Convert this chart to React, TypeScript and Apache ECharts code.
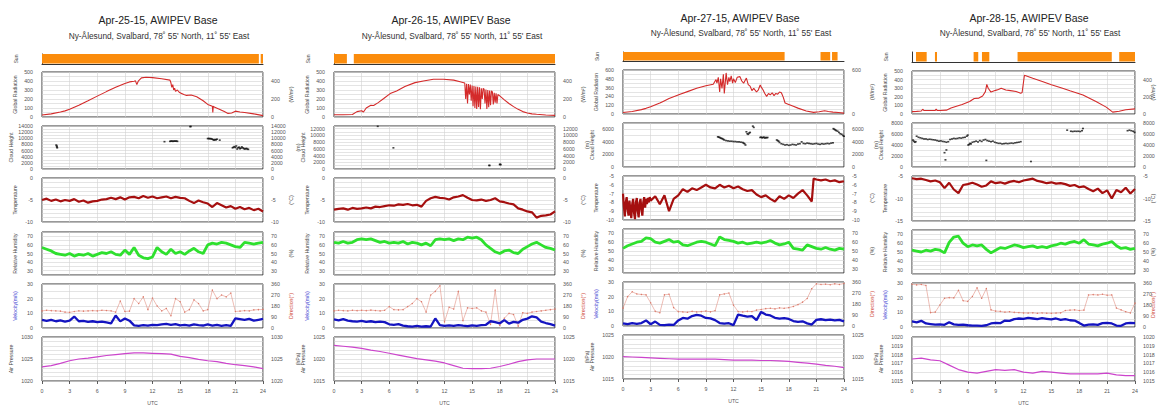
import React, { useEffect, useRef } from 'react';
import * as echarts from 'echarts';

const FONT = '"Liberation Sans", Arial, Helvetica, sans-serif';

const TITLES = ['Apr-25-15, AWIPEV Base', 'Apr-26-15, AWIPEV Base', 'Apr-27-15, AWIPEV Base', 'Apr-28-15, AWIPEV Base'];
const SUBTITLE = "Ny-Ålesund, Svalbard, 78˚ 55' North, 11˚ 55' East";

const H49 = [0, 0.5, 1, 1.5, 2, 2.5, 3, 3.5, 4, 4.5, 5, 5.5, 6, 6.5, 7, 7.5, 8, 8.5, 9, 9.5, 10, 10.5, 11, 11.5, 12, 12.5, 13, 13.5, 14, 14.5, 15, 15.5, 16, 16.5, 17, 17.5, 18, 18.5, 19, 19.5, 20, 20.5, 21, 21.5, 22, 22.5, 23, 23.5, 24];
const H25 = [0, 1, 2, 3, 4, 5, 6, 7, 8, 9, 10, 11, 12, 13, 14, 15, 16, 17, 18, 19, 20, 21, 22, 23, 24];

// ---------- Sun (hours with sunshine) ----------
const SUN1 = [[0, 23.55], [23.75, 24]];
const SUN2 = [[0, 1.4], [2.15, 24]];
const SUN3 = [[0, 17.55], [21.45, 22.5], [22.7, 23.3]];
const SUN4 = [[0.43, 1.58], [2.47, 2.69], [6.63, 7.13], [7.53, 8.32], [11.36, 21.5], [22.3, 24]];

// ---------- Global radiation [hour, W/m2] ----------
const RAD1 = [[0, 22], [1, 35], [2, 55], [2.5, 68], [3, 85], [4, 130], [5, 180], [6, 232], [7, 282], [8, 330], [9, 372], [9.5, 390], [10, 398], [10.15, 402], [10.3, 360], [10.45, 398], [10.8, 435], [11.3, 442], [12, 438], [13, 425], [13.9, 410], [14.0, 380], [14.1, 330], [14.2, 360], [14.3, 300], [14.4, 320], [14.5, 285], [14.7, 300], [14.9, 275], [15.1, 265], [15.4, 250], [15.7, 240], [16.2, 245], [16.8, 225], [17.5, 180], [18.0, 140], [18.5, 120], [18.55, 50], [18.6, 120], [18.7, 110], [19.2, 90], [19.8, 60], [20.2, 40], [20.6, 45], [21, 65], [21.5, 55], [22, 50], [23, 35], [24, 15]];
const RAD2 = [[0, 25], [1, 25], [2, 27], [2.5, 60], [3, 70], [3.2, 55], [3.5, 100], [4, 130], [4.3, 128], [4.8, 160], [5.4, 205], [6.1, 260], [6.8, 290], [7.7, 340], [8.8, 382], [9.7, 400], [10.8, 420], [11.9, 420], [13, 410], [13.7, 392], [14.2, 378], [14.3, 200], [14.4, 370], [14.5, 150], [14.6, 365], [14.7, 250], [14.8, 360], [14.9, 180], [15.0, 350], [15.1, 120], [15.2, 345], [15.3, 100], [15.4, 340], [15.5, 90], [15.6, 335], [15.7, 110], [15.8, 330], [15.9, 85], [16.0, 320], [16.1, 200], [16.2, 318], [16.3, 310], [16.4, 150], [16.5, 305], [16.6, 90], [16.7, 300], [16.8, 110], [16.9, 295], [17.0, 130], [17.1, 290], [17.2, 280], [17.3, 140], [17.4, 270], [17.5, 160], [17.6, 262], [17.7, 150], [17.8, 250], [18, 235], [18.5, 190], [19, 150], [19.5, 115], [20, 85], [20.5, 60], [21, 45], [21.5, 35], [22, 30], [23, 22], [24, 18]];
const RAD3 = [[0, 20], [1, 35], [2, 60], [2.5, 77], [3, 100], [4, 150], [4.3, 168], [5, 210], [6.2, 268], [7, 305], [8, 350], [9, 385], [9.8, 405], [10.1, 470], [10.2, 420], [10.35, 500], [10.5, 300], [10.6, 480], [10.75, 350], [10.9, 540], [11.0, 280], [11.2, 560], [11.35, 400], [11.5, 500], [11.6, 440], [11.75, 520], [11.9, 420], [12.0, 480], [12.2, 430], [12.4, 500], [12.7, 510], [12.9, 450], [13.1, 420], [13.4, 490], [13.6, 400], [13.8, 380], [14.0, 320], [14.2, 350], [14.5, 300], [14.7, 330], [14.9, 395], [15.0, 370], [15.2, 330], [15.4, 280], [15.6, 240], [15.8, 280], [16.0, 260], [16.2, 290], [16.4, 250], [16.6, 280], [16.8, 270], [17.0, 300], [17.2, 290], [17.4, 230], [17.6, 150], [18, 130], [18.5, 105], [19, 80], [19.9, 40], [20.7, 22], [21.3, 30], [21.9, 45], [22.3, 35], [22.8, 25], [23.4, 20], [24, 12]];
const RAD4 = [[0, 28], [0.5, 30], [1, 35], [1.15, 55], [1.3, 40], [2, 40], [2.5, 42], [2.6, 57], [2.7, 42], [3, 40], [3.7, 45], [4.2, 70], [4.7, 88], [5.4, 110], [6.2, 145], [6.7, 180], [7.2, 185], [7.6, 210], [7.9, 260], [8.05, 345], [8.2, 300], [8.5, 255], [9.0, 275], [9.3, 285], [9.6, 300], [10.1, 280], [10.6, 272], [11.2, 262], [11.7, 240], [11.85, 250], [12.1, 450], [13, 415], [14.1, 375], [15, 340], [16.2, 300], [17, 270], [18.4, 222], [19.8, 145], [20.9, 80], [21.6, 22], [22.3, 32], [23, 50], [24, 60]];

// ---------- Cloud height [hour, m] ----------
const CLOUD1 = [[1.55, 7800], [1.6, 7500], [1.62, 7200], [1.65, 6900], [13.3, 8900], [13.9, 9000], [14.0, 9050], [14.1, 9100], [14.2, 9000], [14.3, 9050], [14.4, 9100], [14.5, 9050], [14.6, 9100], [14.7, 9000], [16.1, 13800], [16.15, 13850], [18.0, 9900], [18.1, 9950], [18.2, 9850], [18.3, 9900], [18.4, 9800], [18.5, 9700], [18.6, 9500], [18.7, 9400], [18.8, 9600], [18.9, 9500], [19.0, 9700], [19.3, 9400], [20.7, 6900], [20.8, 7100], [20.9, 7300], [21.0, 7000], [21.1, 7500], [21.2, 6500], [21.3, 6900], [21.4, 7100], [21.5, 6600], [21.6, 6800], [21.7, 7200], [21.8, 6900], [21.9, 6700], [22.0, 6500], [22.1, 6600], [22.2, 6700], [22.3, 6500], [22.4, 6400]];
const CLOUD2 = [[4.75, 12700], [6.45, 6300], [16.85, 1070], [16.9, 1050], [18.0, 1350], [18.05, 1380], [18.1, 1300]];
const CLOUD3 = [[10.3, 4800], [10.4, 4750], [10.5, 4700], [10.6, 4600], [10.7, 4550], [10.8, 4500], [10.9, 4400], [11.0, 4300], [11.2, 4200], [11.4, 4150], [11.6, 4100], [11.8, 4100], [12.0, 4050], [12.2, 4050], [12.4, 4000], [12.6, 4000], [12.8, 3950], [13.0, 3900], [13.1, 3800], [13.2, 3700], [13.3, 3500], [13.4, 5600], [13.5, 5300], [13.6, 5200], [13.7, 5400], [13.8, 5500], [14.1, 6500], [14.2, 6300], [14.9, 4700], [15.0, 4750], [15.1, 4650], [15.2, 4700], [15.3, 4750], [15.4, 4600], [15.5, 4700], [15.6, 4650], [15.7, 4700], [16.7, 4300], [16.8, 4200], [16.9, 4100], [17.0, 3900], [17.2, 3700], [17.4, 3600], [17.6, 3500], [17.8, 3550], [18.0, 3450], [18.2, 3500], [18.4, 3600], [18.6, 3550], [18.8, 3500], [19.0, 3650], [19.2, 3700], [19.4, 4000], [19.6, 3750], [19.8, 3700], [20.0, 3800], [20.2, 3750], [20.4, 3700], [20.6, 3650], [20.8, 3700], [21.0, 3750], [21.2, 3650], [21.4, 3600], [21.6, 3700], [21.8, 3650], [22.0, 3700], [22.2, 3750], [22.4, 3700], [22.6, 3800], [22.8, 3850], [22.85, 6100], [22.95, 6000], [23.05, 5900], [23.15, 5800], [23.3, 5700], [23.45, 5500], [23.6, 5300], [23.75, 5200], [23.9, 5000], [24.0, 4900]];
const CLOUD4 = [[0.1, 4900], [0.2, 4700], [0.3, 4500], [0.4, 4600], [0.5, 5600], [0.7, 5400], [0.9, 5300], [1.1, 5200], [1.3, 5100], [1.5, 5100], [1.7, 5000], [1.9, 5050], [2.1, 5000], [2.3, 4950], [2.5, 4900], [2.7, 4800], [2.9, 4700], [3.1, 4750], [3.3, 4650], [3.5, 4600], [3.7, 4500], [3.9, 4600], [3.5, 2600], [3.6, 1300], [3.7, 3100], [4.1, 5000], [4.3, 5100], [4.5, 5200], [4.7, 5150], [4.9, 5200], [5.1, 5300], [5.3, 5250], [5.5, 5350], [5.7, 5400], [5.9, 5600], [6.0, 5800], [6.05, 4000], [6.15, 4100], [6.25, 4300], [6.35, 4200], [6.5, 4500], [6.7, 4600], [6.9, 4700], [7.1, 4550], [7.3, 4800], [7.5, 4650], [7.7, 4900], [7.9, 5000], [8.1, 4800], [8.3, 4700], [8.0, 1200], [8.5, 4600], [8.7, 4700], [8.9, 4500], [9.1, 4400], [9.3, 4300], [9.5, 4300], [9.7, 4200], [9.9, 4250], [10.1, 4300], [10.3, 4250], [10.5, 4300], [10.7, 4350], [10.9, 4300], [11.1, 4400], [11.3, 4450], [11.5, 4500], [11.7, 4600], [12.8, 1000], [16.7, 6700], [17.1, 6500], [17.3, 6450], [17.5, 6500], [17.7, 6480], [17.9, 6500], [18.1, 6450], [18.3, 6600], [18.4, 7000], [23.2, 6600], [23.4, 6700], [23.6, 6600], [23.8, 6500], [23.95, 6300]];

// ---------- Temperature [°C] ----------
const TEMP1 = [-5.0, -4.7, -5.2, -4.9, -5.3, -5.0, -5.2, -4.8, -5.4, -5.1,
  -5.6, -5.3, -5.2, -4.9, -4.8, -4.5, -4.8, -4.4, -4.9, -4.4,
  -4.3, -4.6, -4.1, -4.5, -4.2, -4.6, -4.4, -4.2, -4.6, -4.3,
  -4.5, -4.6, -5.2, -5.7, -5.1, -5.5, -5.8, -6.6, -5.7, -6.2,
  -6.7, -6.4, -7.0, -6.6, -7.1, -6.8, -7.3, -7.0, -7.6];
const TEMP2 = [-7.2, -7.0, -6.9, -7.2, -6.8, -7.0, -6.9, -6.7, -6.9, -6.5,
  -6.6, -6.4, -6.2, -6.3, -6.0, -6.1, -5.9, -6.2, -6.1, -6.5,
  -5.2, -4.6, -4.3, -4.5, -4.6, -4.9, -4.4, -4.2, -3.9, -4.5,
  -5.0, -5.1, -4.9, -5.2, -5.0, -4.6, -5.3, -5.5, -5.8, -6.0,
  -6.9, -7.2, -7.6, -7.8, -9.0, -8.6, -8.5, -8.3, -7.6];
const TEMP3 = [[0, -7.0], [0.1, -8.5], [0.2, -9.6], [0.3, -8.0], [0.4, -7.4], [0.5, -8.8], [0.6, -9.5], [0.7, -7.8], [0.8, -8.9], [0.9, -9.8],
  [1.0, -8.2], [1.1, -7.6], [1.2, -9.2], [1.3, -9.9], [1.4, -8.0], [1.5, -7.5], [1.6, -9.0], [1.7, -9.7], [1.8, -8.1], [1.9, -7.6],
  [2.0, -8.8], [2.1, -9.5], [2.2, -8.0], [2.3, -7.4], [2.4, -8.6], [2.5, -7.6], [2.6, -8.2], [2.7, -7.5], [2.8, -8.0], [2.9, -7.4], [3.0, -7.8],
  [3.5, -7.3], [4, -8.2], [4.5, -7.2], [5, -9.0], [5.5, -7.6], [6, -7.2], [6.5, -6.5], [7, -6.8], [7.5, -6.4], [8, -6.6],
  [8.5, -6.3], [9, -6.0], [9.5, -6.3], [10, -6.4], [10.5, -6.0], [11, -6.3], [11.5, -6.1], [12, -6.4], [12.5, -6.2], [13, -6.5],
  [13.5, -6.7], [14, -6.6], [14.5, -7.1], [15, -7.4], [15.5, -7.2], [16, -7.6], [16.5, -7.9], [17, -7.3], [17.5, -7.6], [18, -7.2],
  [18.5, -7.5], [19, -7.0], [19.5, -6.6], [20, -7.2], [20.5, -7.9], [20.7, -5.3], [21, -5.4], [21.5, -5.5], [22, -5.4], [22.5, -5.6], [23, -5.5],
  [23.5, -5.7], [24, -5.6]];
const TEMP4 = [-5.5, -5.7, -5.6, -5.9, -6.2, -6.0, -6.4, -7.7, -6.5, -8.0,
  -8.8, -7.0, -6.8, -6.5, -6.9, -7.4, -7.1, -6.2, -6.6, -6.4,
  -6.7, -6.3, -6.1, -6.4, -6.0, -5.8, -5.6, -6.1, -6.3, -6.6,
  -6.4, -6.7, -6.6, -6.8, -7.2, -7.0, -7.5, -7.3, -7.9, -8.4,
  -7.8, -8.8, -8.2, -10.0, -8.1, -8.6, -7.6, -8.9, -7.9];

// ---------- Relative humidity [%] ----------
const HUM1 = [57, 55, 53, 50, 49, 48, 50, 47, 49, 48,
  50, 47, 49, 51, 50, 52, 49, 48, 54, 49,
  57, 48, 45, 44, 46, 57, 52, 49, 55, 50,
  52, 49, 53, 56, 52, 50, 60, 62, 61, 63,
  62, 60, 58, 57, 63, 62, 61, 62, 63];
const HUM2 = [63, 62, 64, 62, 63, 66, 67, 66, 67, 65,
  63, 64, 62, 63, 62, 64, 61, 63, 62, 60,
  62, 59, 66, 67, 66, 67, 65, 67, 66, 69,
  68, 69, 66, 60, 56, 52, 50, 53, 54, 51,
  50, 55, 58, 61, 63, 60, 57, 56, 54];
const HUM3 = [53, 56, 58, 60, 61, 65, 64, 60, 59, 61,
  63, 60, 61, 57, 56, 58, 60, 61, 60, 58,
  56, 66, 63, 62, 61, 59, 60, 58, 59, 60,
  59, 60, 62, 59, 57, 58, 60, 53, 52, 51,
  57, 55, 53, 52, 54, 52, 51, 53, 52];
const HUM4 = [52, 51, 50, 52, 51, 53, 52, 49, 61, 67,
  68, 60, 56, 58, 57, 58, 53, 49, 52, 55,
  54, 56, 58, 57, 55, 56, 57, 55, 56, 55,
  57, 58, 60, 59, 61, 62, 60, 64, 59, 58,
  57, 59, 60, 62, 57, 54, 55, 53, 54];

// ---------- Wind velocity [m/s] ----------
const VEL1 = [5.5, 4.8, 5.6, 4.6, 5.2, 4.4, 5.0, 7.8, 4.6, 4.8,
  4.2, 4.6, 4.0, 4.4, 3.8, 3.2, 8.5, 4.5, 6.5, 5.0,
  1.8, 1.5, 2.0, 1.6, 2.2, 1.9, 2.4, 2.8, 2.2, 2.6,
  1.8, 2.1, 1.6, 2.4, 2.0, 1.7, 2.4, 1.6, 2.2, 1.5,
  1.9, 1.4, 6.5, 6.0, 5.5, 6.2, 5.0, 5.6, 6.2];
const VEL2 = [5.8, 5.2, 6.0, 5.0, 4.6, 4.4, 4.8, 4.2, 4.6, 4.0,
  4.4, 4.0, 2.5, 2.2, 2.6, 1.6, 1.2, 1.0, 1.4, 0.9,
  1.2, 1.0, 6.5, 2.0, 1.5, 1.8, 1.4, 2.0, 1.6, 1.3,
  1.8, 1.5, 1.9, 2.2, 4.6, 4.0, 3.2, 5.4, 3.0, 4.2,
  3.6, 5.6, 6.4, 8.0, 7.2, 4.4, 3.4, 2.6, 1.6];
const VEL3 = [1.8, 1.2, 1.9, 1.4, 2.0, 3.8, 1.2, 3.0, 0.8, 0.6,
  1.0, 0.7, 3.8, 5.5, 5.0, 6.8, 7.6, 7.0, 5.5, 5.2,
  4.0, 2.0, 1.6, 1.9, 0.6, 7.8, 7.0, 6.4, 6.8, 4.0,
  9.6, 7.8, 7.2, 5.6, 5.0, 5.4, 4.8, 3.4, 2.8, 3.2,
  1.8, 1.0, 4.2, 4.6, 4.0, 4.4, 3.8, 4.2, 3.2];
const VEL4 = [3.8, 3.2, 4.2, 2.4, 2.0, 1.6, 1.8, 1.5, 3.2, 1.8,
  1.4, 1.6, 1.2, 0.9, 1.0, 0.8, 1.2, 2.4, 2.8, 2.6,
  4.4, 4.2, 5.4, 5.8, 5.6, 6.2, 5.8, 5.4, 6.0, 5.6,
  5.2, 5.8, 4.8, 5.4, 4.6, 4.4, 2.8, 1.0, 1.6, 1.8,
  1.4, 2.6, 2.8, 2.4, 1.0, 0.8, 2.4, 2.8, 2.6];

// ---------- Wind direction [°] ----------
const DIR1 = [140, 145, 142, 140, 138, 130, 128, 135, 140, 138,
  140, 142, 140, 145, 143, 140, 130, 220, 135, 138,
  240, 200, 255, 150, 245, 180, 140, 160, 100, 240,
  215, 130, 150, 230, 200, 140, 150, 310, 240, 270,
  255, 285, 135, 138, 142, 140, 148, 150, 152];
const DIR2 = [140, 145, 142, 140, 145, 142, 145, 142, 146, 143,
  140, 145, 175, 150, 148, 150, 175, 200, 240, 215,
  130, 270, 300, 345, 50, 170, 155, 300, 60, 165,
  160, 165, 140, 130, 30, 310, 20, 80, 120, 110,
  15, 125, 120, 130, 135, 140, 145, 150, 155];
const DIR3 = [146, 240, 280, 262, 258, 255, 190, 120, 108, 255,
  260, 150, 118, 115, 112, 120, 115, 118, 122, 116,
  125, 255, 262, 270, 170, 118, 115, 120, 118, 130,
  135, 142, 145, 140, 148, 145, 150, 160, 175, 195,
  225, 305, 345, 340, 342, 338, 345, 340, 348];
const DIR4 = [350, 345, 348, 340, 118, 122, 180, 235, 240, 238,
  300, 215, 210, 250, 320, 235, 315, 140, 130, 128,
  122, 125, 120, 118, 115, 114, 116, 112, 115, 113,
  112, 114, 116, 135, 138, 140, 135, 138, 262, 265,
  262, 268, 260, 262, 155, 140, 125, 115, 195];

// ---------- Air pressure [hPa], hourly ----------
const PRES1 = [1023.2, 1023.5, 1024.0, 1024.6, 1025.0, 1025.2, 1025.5, 1025.8, 1026.0, 1026.2, 1026.4, 1026.4, 1026.3, 1026.2, 1026.1, 1025.6, 1025.3, 1024.9, 1024.6, 1024.4, 1024.0, 1023.7, 1023.5, 1023.2, 1022.8];
const PRES2 = [1023.1, 1022.9, 1022.7, 1022.4, 1022.0, 1021.7, 1021.3, 1020.9, 1020.5, 1020.1, 1019.8, 1019.5, 1019.1, 1018.5, 1017.9, 1017.8, 1017.8, 1017.9, 1018.3, 1018.8, 1019.4, 1019.8, 1020.0, 1020.0, 1020.0];
const PRES3 = [1020.1, 1020.0, 1019.9, 1019.8, 1019.7, 1019.6, 1019.5, 1019.5, 1019.5, 1019.5, 1019.5, 1019.4, 1019.3, 1019.3, 1019.3, 1019.2, 1019.2, 1019.1, 1019.0, 1018.8, 1018.6, 1018.4, 1018.1, 1017.9, 1017.6];
const PRES4 = [1017.5, 1017.6, 1017.4, 1017.3, 1016.8, 1016.3, 1016.0, 1015.9, 1016.1, 1016.3, 1016.2, 1016.3, 1016.0, 1015.9, 1016.1, 1016.0, 1015.9, 1015.8, 1015.8, 1015.8, 1015.8, 1015.9, 1015.7, 1015.6, 1015.6];

// ---------- Axis scales and tick labels ----------
const RAD_LABELS_A = [0, 100, 200, 300, 400, 500];
const RAD_LABELS_B = [0, 120, 240, 360, 480, 600];
const RAD_RIGHT_A = [0, 200, 400];
const RAD_RIGHT_B = [0, 200, 400, 600];
const CLOUD_LABELS_1 = [0, 2000, 4000, 6000, 8000, 10000, 12000, 14000];
const CLOUD_LABELS_2 = [0, 2000, 4000, 6000, 8000, 10000, 12000];
const CLOUD_LABELS_3 = [0, 2000, 4000, 6000];
const CLOUD_LABELS_4 = [0, 2000, 4000, 6000, 8000];
const TEMP_LABELS_A = [-10, -5, 0];
const TEMP_LABELS_B = [-10, -9, -8, -7, -6, -5];
const TEMP_LABELS_C = [-15, -10, -5];
const HUM_LABELS = [30, 40, 50, 60, 70];
const VEL_LABELS = [0, 10, 20, 30];
const DIR_LABELS = [0, 90, 180, 270, 360];
const PRES_LABELS_1 = [1020, 1025, 1030];
const PRES_LABELS_2 = [1015, 1020, 1025];
const PRES_LABELS_4 = [1015, 1016, 1017, 1018, 1019, 1020];

const zip = (xs: number[], ys: number[]) => xs.map((x, i) => [x, ys[i]]);

const PANELS = [
  { sun: SUN1, rad: RAD1, cloud: CLOUD1, temp: zip(H49, TEMP1), hum: zip(H49, HUM1), vel: zip(H49, VEL1), dir: zip(H49, DIR1), pres: zip(H25, PRES1),
    radAx: [0, 500, 50, RAD_LABELS_A, RAD_RIGHT_A], cloudAx: [0, 14000, 1000, CLOUD_LABELS_1, CLOUD_LABELS_1],
    tempAx: [-10, 0, 1, TEMP_LABELS_A, TEMP_LABELS_A], presAx: [1020, 1030, 1, PRES_LABELS_1, PRES_LABELS_1] },
  { sun: SUN2, rad: RAD2, cloud: CLOUD2, temp: zip(H49, TEMP2), hum: zip(H49, HUM2), vel: zip(H49, VEL2), dir: zip(H49, DIR2), pres: zip(H25, PRES2),
    radAx: [0, 500, 50, RAD_LABELS_A, RAD_RIGHT_A], cloudAx: [0, 12800, 1000, CLOUD_LABELS_2, CLOUD_LABELS_2],
    tempAx: [-10, 0, 1, TEMP_LABELS_A, TEMP_LABELS_A], presAx: [1015, 1025, 1, PRES_LABELS_2, PRES_LABELS_2] },
  { sun: SUN3, rad: RAD3, cloud: CLOUD3, temp: TEMP3, hum: zip(H49, HUM3), vel: zip(H49, VEL3), dir: zip(H49, DIR3), pres: zip(H25, PRES3),
    radAx: [0, 600, 60, RAD_LABELS_B, RAD_RIGHT_B], cloudAx: [0, 7000, 1000, CLOUD_LABELS_3, CLOUD_LABELS_3],
    tempAx: [-10, -5, 0.5, TEMP_LABELS_B, TEMP_LABELS_B], presAx: [1015, 1025, 1, PRES_LABELS_2, PRES_LABELS_2] },
  { sun: SUN4, rad: RAD4, cloud: CLOUD4, temp: zip(H49, TEMP4), hum: zip(H49, HUM4), vel: zip(H49, VEL4), dir: zip(H49, DIR4), pres: zip(H25, PRES4),
    radAx: [0, 500, 50, RAD_LABELS_A, RAD_RIGHT_A], cloudAx: [0, 8000, 1000, CLOUD_LABELS_4, CLOUD_LABELS_4],
    tempAx: [-15, -5, 1, TEMP_LABELS_C, TEMP_LABELS_C], presAx: [1015, 1020, 1, PRES_LABELS_4, PRES_LABELS_4] },
];

const ROWS_A = [[54, 64], [72, 117], [126, 169], [178, 222], [232, 275], [284, 328], [337, 381]];
const ROWS_B = [[52, 61], [70, 114], [123, 167], [176, 220], [229, 273], [282, 326], [335, 379]];
const ROWS_C = [[52, 62], [71, 114], [123, 167], [176, 221], [230, 274], [283, 327], [337, 381]];
const LAYOUT = [
  { left: 42, right: 263, cx: 158, titleY: 20, subY: 35.5, rows: ROWS_A, rightGap: 25 },
  { left: 334, right: 555, cx: 451, titleY: 20, subY: 35.5, rows: ROWS_A, rightGap: 25 },
  { left: 623, right: 844, cx: 740, titleY: 17.5, subY: 33, rows: ROWS_B, rightGap: 25 },
  { left: 912, right: 1135, cx: 1029, titleY: 17.5, subY: 33, rows: ROWS_C, rightGap: 15 },
];

const C = {
  orange: '#fb8c0c', rad: '#d42a2a', temp: '#a50f0f', hum: '#2ee02e', vel: '#1414c0',
  dir: '#dc7a6a', pres: '#cc44cc', cloud: '#111111', frame: '#333333', grid: '#d2d2d2', label: '#555555',
};

const fmt = (labels: number[]) => (v: number) => (labels.some((l) => Math.abs(l - v) < 1e-6) ? String(Math.round(v * 100) / 100) : '');

function buildOption() {
  const grid: any[] = [];
  const xAxis: any[] = [];
  const yAxis: any[] = [];
  const series: any[] = [];
  const graphic: any[] = [];
  const nameStyle = (color = '#444') => ({ fontSize: 5.2, color, fontFamily: FONT });
  const labelStyle = { fontSize: 5.3, color: C.label, fontFamily: FONT };

  PANELS.forEach((pd, p) => {
    const L = LAYOUT[p];
    graphic.push({
      type: 'text', x: L.cx, y: L.titleY, silent: true,
      style: { text: TITLES[p], fontSize: 10.5, fontFamily: FONT, fill: '#222', align: 'center', verticalAlign: 'middle', textAlign: 'center', textVerticalAlign: 'middle' },
    });
    graphic.push({
      type: 'text', x: L.cx + 1, y: L.subY, silent: true,
      style: { text: SUBTITLE, fontSize: 8.3, fontFamily: FONT, fill: '#333', align: 'center', verticalAlign: 'middle', textAlign: 'center', textVerticalAlign: 'middle' },
    });

    L.rows.forEach((row, r) => {
      const gi = grid.length;
      grid.push({
        left: L.left, top: row[0], width: L.right - L.left, height: row[1] - row[0],
        show: r !== 0, borderColor: C.frame, borderWidth: 1, backgroundColor: 'transparent',
        containLabel: false, outerBoundsMode: 'none',
      });
      const bottom = r === 6;
      xAxis.push({
        type: 'value', gridIndex: gi, min: 0, max: 24, interval: 3,
        axisLine: { show: r === 0, lineStyle: { color: C.frame, width: 1 } },
        axisTick: { show: bottom, length: 3, lineStyle: { color: C.frame, width: 0.8 } },
        axisLabel: { show: bottom, margin: 7, ...labelStyle },
        splitLine: { show: r !== 0, lineStyle: { color: C.grid, width: 0.6 } },
        name: bottom ? 'UTC' : '', nameLocation: 'middle', nameGap: 19, nameTextStyle: nameStyle('#555'),
        nameMoveOverlap: false,
      });

      const leftAxis = (min: number, max: number, step: number, labels: number[] | null, name: string, nameColor = '#444', gap = 25) => {
        yAxis.push({
          type: 'value', gridIndex: gi, position: 'left', min, max, interval: step,
          axisLine: { show: r === 0, lineStyle: { color: C.frame, width: 1 } },
          axisTick: { show: false },
          axisLabel: { show: !!labels, margin: 9, formatter: labels ? fmt(labels) : undefined, ...labelStyle },
          splitLine: { show: r !== 0, lineStyle: { color: C.grid, width: 0.6 } },
          name, nameLocation: 'middle', nameGap: gap, nameRotate: 90, nameTextStyle: nameStyle(nameColor),
          nameMoveOverlap: false,
        });
        return yAxis.length - 1;
      };
      const rightAxis = (min: number, max: number, step: number, labels: number[], name: string, nameColor = '#444') => {
        yAxis.push({
          type: 'value', gridIndex: gi, position: 'right', min, max, interval: step,
          axisLine: { show: false }, axisTick: { show: false },
          axisLabel: { margin: 8, formatter: fmt(labels), ...labelStyle },
          splitLine: { show: false },
          name, nameLocation: 'middle', nameGap: L.rightGap, nameRotate: 90, nameTextStyle: nameStyle(nameColor),
          nameMoveOverlap: false,
        });
        return yAxis.length - 1;
      };
      const line = (yi: number, data: any[], color: string, width: number, extra: any = {}) => {
        series.push({
          type: 'line', xAxisIndex: gi, yAxisIndex: yi, data, showSymbol: false, silent: true, clip: true,
          lineStyle: { color, width }, itemStyle: { color }, ...extra,
        });
      };

      if (r === 0) {
        const yi = leftAxis(0, 1, 1, null, 'Sun', '#444', 24);
        series.push({
          type: 'custom', xAxisIndex: gi, yAxisIndex: yi, data: pd.sun, silent: true, clip: true,
          renderItem: (_params: any, api: any) => {
            const a = api.coord([api.value(0), 1]);
            const b = api.coord([api.value(1), 0]);
            return { type: 'rect', shape: { x: a[0], y: a[1], width: b[0] - a[0], height: b[1] - a[1] - 0.5 }, style: { fill: C.orange } };
          },
        });
      } else if (r === 1) {
        const [mn, mx, st, lab, rlab] = pd.radAx as any;
        const yi = leftAxis(mn, mx, st, lab, 'Global Radiation');
        rightAxis(mn, mx, st, rlab, '(W/m²)');
        line(yi, pd.rad, C.rad, 1.1);
      } else if (r === 2) {
        const [mn, mx, st, lab, rlab] = pd.cloudAx as any;
        const yi = leftAxis(mn, mx, st, lab, p === 0 ? 'Cloud Height' : '(m)\nCloud Height', '#444', 29);
        rightAxis(mn, mx, st, rlab, '');
        series.push({
          type: 'scatter', xAxisIndex: gi, yAxisIndex: yi, data: pd.cloud, symbol: 'rect', symbolSize: [2, 1.6], silent: true,
          itemStyle: { color: C.cloud },
        });
      } else if (r === 3) {
        const [mn, mx, st, lab, rlab] = pd.tempAx as any;
        const yi = leftAxis(mn, mx, st, lab, 'Temperature');
        rightAxis(mn, mx, st, rlab, '(°C)');
        line(yi, pd.temp, C.temp, 2.2);
      } else if (r === 4) {
        const yi = leftAxis(25, 75, 5, HUM_LABELS, 'Relative Humidity');
        rightAxis(25, 75, 5, HUM_LABELS, '(%)');
        line(yi, pd.hum, C.hum, 2.8);
      } else if (r === 5) {
        const yi = leftAxis(0, 30, 5, VEL_LABELS, 'Velocity(m/s)', '#3a3ad0');
        const yr = rightAxis(0, 360, 90, DIR_LABELS, 'Direction(°)', '#d04a3a');
        line(yr, pd.dir, C.dir, 0.5, { showSymbol: true, symbol: 'circle', symbolSize: 1.4 });
        line(yi, pd.vel, C.vel, 2.3);
      } else {
        const [mn, mx, st, lab, rlab] = pd.presAx as any;
        const yi = leftAxis(mn, mx, st, lab, p === 0 ? 'Air Pressure' : '(hPa)\nAir Pressure', '#444', 29);
        rightAxis(mn, mx, st, rlab, '');
        line(yi, pd.pres, C.pres, 1.2);
      }
    });
  });

  return { animation: false, backgroundColor: '#ffffff', grid, xAxis, yAxis, series, graphic };
}

export default function App() {
  const ref = useRef<HTMLDivElement>(null);
  useEffect(() => {
    if (!ref.current) return;
    const chart = echarts.init(ref.current, undefined, { renderer: 'svg' });
    chart.setOption(buildOption() as any);
    return () => chart.dispose();
  }, []);
  return <div ref={ref} style={{ position: 'absolute', left: 0, top: 0, width: 1159, height: 405, background: '#fff' }} />;
}
